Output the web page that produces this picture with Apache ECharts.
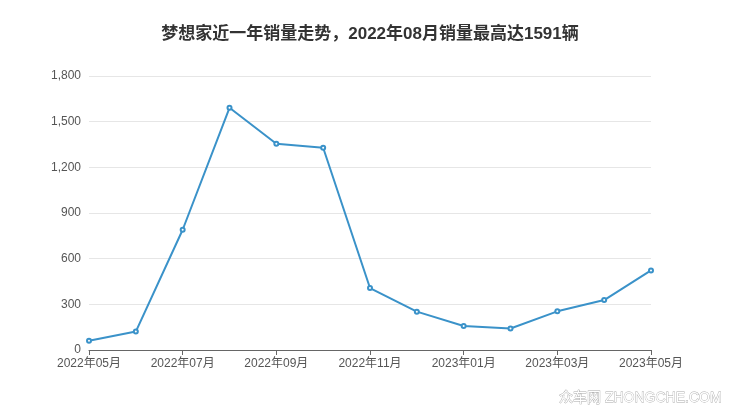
<!DOCTYPE html>
<html><head><meta charset="utf-8">
<script src="https://cdn.jsdelivr.net/npm/echarts@6/dist/echarts.min.js"></script>
<style>html,body{margin:0;padding:0;background:#fff;}#c{width:740px;height:417px;}</style>
</head><body><div id="c"></div>
<script>
var titleText = '梦想家近一年销量走势，2022年08月销量最高达1591辆';
var months = ['2022年05月','2022年06月','2022年07月','2022年08月','2022年09月','2022年10月','2022年11月','2022年12月','2023年01月','2023年02月','2023年03月','2023年04月','2023年05月'];
var sales = [61, 121, 790, 1591, 1355, 1329, 407, 252, 158, 141, 254, 328, 523];
var yTicks = [0, 300, 600, 900, 1200, 1500, 1800];
var watermark = '众车网 ZHONGCHE.COM';

var fam = '"Liberation Sans", "Noto Sans CJK SC", sans-serif';
var chart = echarts.init(document.getElementById('c'));
chart.setOption({
  backgroundColor: '#fff',
  animation: false,
  title: {
    text: titleText, left: 'center', top: 21,
    textStyle: {fontSize: 17, fontWeight: 'bold', color: '#333', fontFamily: fam}
  },
  graphic: [{
    type: 'text', right: 18, bottom: 11,
    style: {text: watermark, fill: '#fff', stroke: '#aaa', lineWidth: 0.8, fontSize: 14, fontFamily: fam}
  }],
  grid: {left: 89, right: 89, top: 76, bottom: 67},
  xAxis: {
    type: 'category', data: months, boundaryGap: false,
    axisLine: {lineStyle: {color: '#666'}},
    axisTick: {interval: 1, lineStyle: {color: '#666'}},
    axisLabel: {interval: 1, color: '#555', fontSize: 12, margin: 8, fontFamily: fam}
  },
  yAxis: {
    type: 'value', min: yTicks[0], max: yTicks[yTicks.length-1], interval: 300,
    axisLine: {show: false}, axisTick: {show: false},
    axisLabel: {color: '#555', fontSize: 12, margin: 8, fontFamily: fam},
    splitLine: {lineStyle: {color: '#e6e6e6'}}
  },
  series: [{
    type: 'line', data: sales,
    symbol: 'emptyCircle', symbolSize: 4, showAllSymbol: true,
    lineStyle: {color: '#3a92c9', width: 2},
    itemStyle: {color: '#3a92c9', borderWidth: 1.5}
  }]
});
</script></body></html>
